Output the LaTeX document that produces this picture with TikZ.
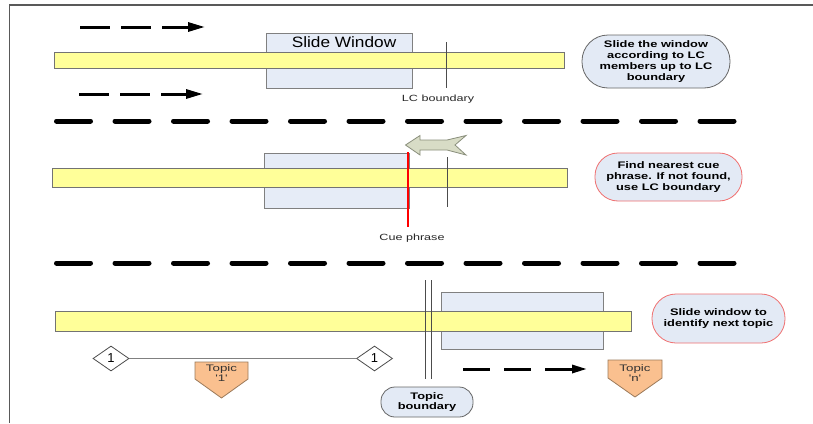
\documentclass[tikz,border=0pt]{standalone}
\usepackage{fontspec}
\setmainfont{Liberation Sans}
\newfontfamily\swfont{Liberation Sans}[FakeStretch=1.15]
\newfontfamily\lbfont{Liberation Sans}[FakeStretch=1.4,Ligatures=TeXOff]
\newfontfamily\cbfont{Liberation Sans}[FakeStretch=1.35]
\usetikzlibrary{arrows.meta,shapes.geometric}
\definecolor{barY}{HTML}{FFFF99}
\definecolor{winB}{HTML}{E6ECF7}
\definecolor{callB}{HTML}{E3EAF5}
\definecolor{redB}{HTML}{F07070}
\definecolor{arrG}{HTML}{D8DCC6}
\definecolor{arrGd}{HTML}{8A8F7C}
\definecolor{topO}{HTML}{FAC08F}
\definecolor{topOd}{HTML}{9C7A5A}
\tikzset{
  frameline/.style={draw=black!65, line width=1.5pt},
  ybar/.style={draw=black!55, fill=barY, line width=0.7pt, inner sep=0pt, anchor=north west},
  win/.style={draw=black!50, fill=winB, line width=0.8pt, inner sep=0pt, anchor=north west},
  callout/.style={draw=black!60, fill=callB, line width=0.8pt, inner sep=0pt, align=center,
    font=\cbfont\bfseries\fontsize{9.5}{10.8}\selectfont},
  redcallout/.style={callout, draw=redB},
  lbl/.style={font=\lbfont\fontsize{9}{8.5}\selectfont, text=black!85, inner sep=0pt, align=center},
  toplbl/.style={font=\lbfont\fontsize{9.5}{8.5}\selectfont, text=black!80, inner sep=0pt, align=center},
  thinline/.style={draw=black!70, line width=0.8pt},
  sepline/.style={line width=5pt, line cap=round, dash pattern=on 34pt off 24.5pt},
  dasharrow/.style={line width=3pt, dash pattern=on 30pt off 11pt, -{Triangle[length=17pt,width=9pt]}},
  dasharrowb/.style={line width=3pt, dash pattern=on 27pt off 14pt, -{Triangle[length=15pt,width=8pt]}},
  dia/.style={diamond, draw=black!70, fill=white, line width=0.8pt, inner sep=0pt,
    minimum width=36pt, minimum height=25pt, font=\fontsize{13}{13}\selectfont},
  topicshape/.style={draw=topOd, fill=topO, line width=0.8pt},
}
\begin{document}
\begin{tikzpicture}[x=1pt,y=-1pt]
\useasboundingbox (0,0) rectangle (813,423);
\fill[white] (0,0) rectangle (813,423);
% frame
\draw[frameline] (813,5) -- (9.5,5) -- (9.5,423);

% ---------- panel 1 ----------
\coordinate (a1s) at (80,27);  \coordinate (a1e) at (205,27);
\coordinate (a2s) at (79,94);  \coordinate (a2e) at (203,94);
\draw[dasharrow] (a1s) -- (a1e);
\draw[dasharrow] (a2s) -- (a2e);
\node[win, minimum width=146pt, minimum height=55pt] (w1) at (266,33) {};
\node[ybar, minimum width=510pt, minimum height=16pt] (b1) at (54,52) {};
\node[font=\swfont\fontsize{15}{18}\selectfont, inner sep=0pt] (swt) at (344,42) {Slide Window};
\coordinate (lc1t) at (446,42); \coordinate (lc1b) at (446,88);
\draw[thinline] (lc1t) -- (lc1b);
\node[lbl] (lct) at (438,99) {LC boundary};
\node[callout, minimum width=148pt, minimum height=53pt, rounded corners=26pt] (c1) at (656,61.5)
  {Slide the window\\according to LC\\members up to LC\\boundary};

% separator 1
\coordinate (s1a) at (56.5,121); \coordinate (s1b) at (736,121);
\draw[sepline] (s1a) -- (s1b);

% ---------- panel 2 ----------
\node[win, minimum width=145pt, minimum height=55pt] (w2) at (264,153) {};
\node[ybar, minimum width=515pt, minimum height=19pt] (b2) at (52,168) {};
\coordinate (lc2t) at (447,157); \coordinate (lc2b) at (447,207);
\draw[thinline] (lc2t) -- (lc2b);
\coordinate (cpt) at (408,152); \coordinate (cpb) at (408,227);
\draw[red, line width=2.5pt] (cpt) -- (cpb);
\node[lbl] (cpl) at (412,238) {Cue phrase};
\draw[draw=arrGd, fill=arrG, line width=0.8pt, line join=miter]
  (405.5,145) -- (420,135.5) -- (420,140) -- (447,140) -- (466,135.5) -- (455,145)
  -- (466,155) -- (447,150) -- (420,150) -- (420,155) -- cycle;
\node[redcallout, minimum width=147pt, minimum height=48pt, rounded corners=23pt] (c2) at (668.5,177)
  {Find nearest cue\\phrase. If not found,\\use LC boundary};

% separator 2
\coordinate (s2a) at (56.5,263); \coordinate (s2b) at (736,263);
\draw[sepline] (s2a) -- (s2b);

% ---------- panel 3 ----------
\node[win, minimum width=162pt, minimum height=57pt] (w3) at (441,292) {};
\node[ybar, minimum width=576pt, minimum height=20pt] (b3) at (55,311) {};
\coordinate (tb1t) at (425,280); \coordinate (tb1b) at (425,379);
\coordinate (tb2t) at (431,280); \coordinate (tb2b) at (431,379);
\draw[thinline] (tb1t) -- (tb1b);
\draw[thinline] (tb2t) -- (tb2b);
\node[redcallout, minimum width=133pt, minimum height=49pt, rounded corners=24pt] (c3) at (718.5,318.5)
  {Slide window to\\identify next topic};
\node[dia] (d1) at (111,358.5) {1};
\node[dia] (d2) at (374.5,358.5) {1};
\draw[draw=black!50, line width=0.9pt] (d1) -- (d2);
\draw[topicshape] (195,362) -- (248,362) -- (248,379) -- (221.5,398) -- (195,379) -- cycle;
\node[toplbl] (t1) at (221.5,373) {Topic\\'1'};
\draw[topicshape] (608,360) -- (662,360) -- (662,378) -- (635,397) -- (608,378) -- cycle;
\node[toplbl] (tn) at (635,373) {Topic\\'n'};
\node[callout, minimum width=92pt, minimum height=30pt, rounded corners=14pt] (tbc) at (427,402)
  {Topic\\boundary};
\coordinate (a3s) at (463,369); \coordinate (a3e) at (587,369);
\draw[dasharrowb] (a3s) -- (a3e);
\end{tikzpicture}
\end{document}
